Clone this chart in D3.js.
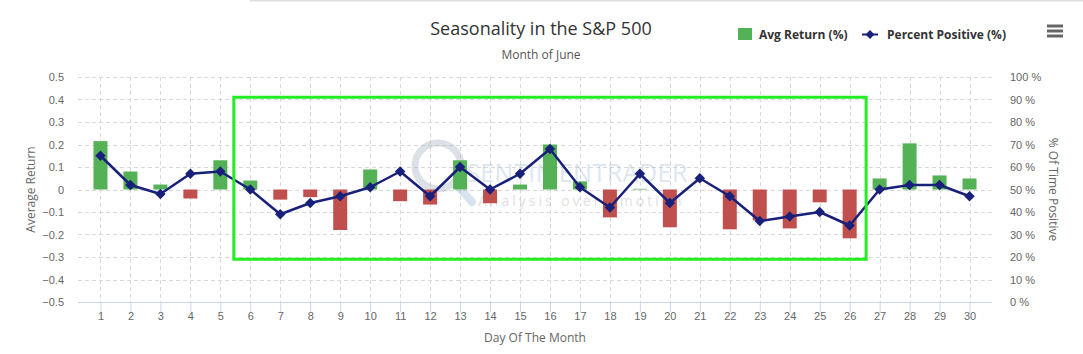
<!DOCTYPE html>
<html><head><meta charset="utf-8">
<script src="https://cdn.jsdelivr.net/npm/d3@7/dist/d3.min.js"></script>
<style>
html,body{margin:0;padding:0;background:#fff;}
svg{display:block;font-family:"Open Sans",sans-serif;}
</style></head>
<body>
<svg id="chart" width="1083" height="354"></svg>
<script>
const days = [1,2,3,4,5,6,7,8,9,10,11,12,13,14,15,16,17,18,19,20,21,22,23,24,25,26,27,28,29,30];
const avgReturn = [0.215,0.08,0.022,-0.04,0.13,0.04,-0.045,-0.034,-0.18,0.089,-0.052,-0.067,0.13,-0.061,0.022,0.2,0.036,-0.124,0.003,-0.168,0,-0.177,-0.137,-0.173,-0.057,-0.217,0.049,0.205,0.0625,0.049];
const pctPositive = [65,52,48,57,58,50,39,44,47,51,58,47,60,50,57,68,51,42,57,44,55,47,36,38,40,34,50,52,52,47];
const leftTicks = [-0.5,-0.4,-0.3,-0.2,-0.1,0,0.1,0.2,0.3,0.4,0.5];
const rightTicks = [0,10,20,30,40,50,60,70,80,90,100];
const highlightDays = [5.45, 26.55];
const highlightReturn = [0.41, -0.31];

const svg = d3.select("#chart");
const L = 78, R = 992, T = 77, B = 302;
const x = d3.scaleLinear().domain([0.25, 30.75]).range([L, R]);
const y = d3.scaleLinear().domain([-0.5, 0.5]).range([B, T]);
const y2 = d3.scaleLinear().domain([0, 100]).range([B, T]);

const green = "#55b155", red = "#c0504d", navy = "#18207a";

// top border line
svg.append("line").attr("x1",250).attr("x2",1083).attr("y1",0.5).attr("y2",0.5).attr("stroke","#ddd").attr("stroke-width",2);

// grid
const g = svg.append("g");
g.selectAll(".hg").data(leftTicks.filter(t=>t>-0.5)).join("line")
  .attr("x1",L).attr("x2",R).attr("y1",d=>Math.round(y(d))+0.5).attr("y2",d=>Math.round(y(d))+0.5)
  .attr("stroke","#d8d8d8").attr("stroke-dasharray","4,3");
g.selectAll(".vg").data(days).join("line")
  .attr("x1",d=>Math.round(x(d))+0.5).attr("x2",d=>Math.round(x(d))+0.5).attr("y1",T).attr("y2",B)
  .attr("stroke","#d8d8d8").attr("stroke-dasharray","4,3");

// watermark
const wm = svg.append("g").attr("opacity",0.35);
wm.append("circle").attr("cx",438).attr("cy",166).attr("r",23).attr("fill","none").attr("stroke","#9aaab8").attr("stroke-width",7);
wm.append("line").attr("x1",456).attr("y1",184).attr("x2",472).attr("y2",202).attr("stroke","#8fb3cc").attr("stroke-width",8).attr("stroke-linecap","round");
wm.append("text").attr("x",466).attr("y",182).attr("font-size",25).attr("fill","#9fbcd3").attr("letter-spacing",0.5).text("SENTIMENTRADER");
wm.append("text").attr("x",478).attr("y",206).attr("font-size",14).attr("fill","#a8a8a8").attr("letter-spacing",3).text("Analysis over emotion");

// axis line
svg.append("line").attr("x1",L).attr("x2",R).attr("y1",B+0.5).attr("y2",B+0.5).attr("stroke","#ccd6eb");
const xAxis = d3.axisBottom(x).tickValues(days).tickSize(10).tickPadding(6).tickFormat(d3.format("d"));
const xa = svg.append("g").attr("transform",`translate(0,${B})`).call(xAxis);
xa.select(".domain").remove();
xa.selectAll(".tick line").attr("stroke","#ccd6eb");
xa.selectAll("text").attr("fill","#666").attr("font-size",11).attr("dy","0.2em");

// left axis
const ya = svg.append("g").attr("transform",`translate(${L-14},0)`).call(d3.axisLeft(y).tickValues(leftTicks).tickSize(0).tickPadding(0).tickFormat(d=>d===0?"0":d3.format(".1f")(d)));
ya.select(".domain").remove();
ya.selectAll("text").attr("fill","#666").attr("font-size",11);
// right axis
const ra = svg.append("g").attr("transform",`translate(${R+18},0)`).call(d3.axisRight(y2).tickValues(rightTicks).tickSize(0).tickPadding(0).tickFormat(d=>d+" %"));
ra.select(".domain").remove();
ra.selectAll("text").attr("fill","#666").attr("font-size",11);

// axis titles
svg.append("text").attr("transform",`translate(35,${(T+B)/2}) rotate(-90)`).attr("text-anchor","middle").attr("fill","#666").attr("font-size",12).text("Average Return");
svg.append("text").attr("transform",`translate(1049,${(T+B)/2}) rotate(90)`).attr("text-anchor","middle").attr("fill","#666").attr("font-size",12).text("% Of Time Positive");
svg.append("text").attr("x",(L+R)/2).attr("y",342).attr("text-anchor","middle").attr("fill","#666").attr("font-size",12).text("Day Of The Month");

// bars
svg.append("g").selectAll("rect").data(days).join("rect")
  .attr("x",(d)=>x(d)-7).attr("width",14)
  .attr("y",(d,i)=>y(Math.max(0,avgReturn[i])))
  .attr("height",(d,i)=>Math.abs(y(avgReturn[i])-y(0)))
  .attr("fill",(d,i)=>avgReturn[i]>=0?green:red);

// line
const line = d3.line().x((d,i)=>x(days[i])).y(d=>y2(d));
svg.append("path").datum(pctPositive).attr("d",line).attr("fill","none").attr("stroke",navy).attr("stroke-width",2.5).attr("stroke-linejoin","round");
const diamond = d3.symbol().type(d3.symbolDiamond2).size(70);
svg.append("g").selectAll("path").data(pctPositive).join("path")
  .attr("transform",(d,i)=>`translate(${x(days[i])},${y2(d)})`).attr("d",diamond).attr("fill",navy);

// highlight rectangle
svg.append("rect")
  .attr("x",x(highlightDays[0])).attr("y",y(highlightReturn[0]))
  .attr("width",x(highlightDays[1])-x(highlightDays[0]))
  .attr("height",y(highlightReturn[1])-y(highlightReturn[0]))
  .attr("fill","none").attr("stroke","#22ee22").attr("stroke-width",3);

// title
svg.append("text").attr("x",541).attr("y",35).attr("text-anchor","middle").attr("fill","#333").attr("font-size",18).text("Seasonality in the S&P 500");
svg.append("text").attr("x",541).attr("y",59).attr("text-anchor","middle").attr("fill","#555").attr("font-size",12).text("Month of June");

// legend
svg.append("rect").attr("x",738).attr("y",28).attr("width",14).attr("height",12).attr("fill",green);
svg.append("text").attr("x",759).attr("y",39).attr("font-size",12).attr("font-weight","bold").attr("fill","#333").text("Avg Return (%)");
svg.append("line").attr("x1",862).attr("x2",878).attr("y1",34.5).attr("y2",34.5).attr("stroke",navy).attr("stroke-width",2);
svg.append("path").attr("transform","translate(870,34.5)").attr("d",d3.symbol().type(d3.symbolDiamond2).size(50)).attr("fill",navy);
svg.append("text").attr("x",887).attr("y",39).attr("font-size",12).attr("font-weight","bold").attr("fill","#333").text("Percent Positive (%)");

// menu icon
[0,1,2].forEach(i=>svg.append("line").attr("x1",1047).attr("x2",1063).attr("y1",26+i*5).attr("y2",26+i*5).attr("stroke","#666").attr("stroke-width",3));
</script>
</body></html>
